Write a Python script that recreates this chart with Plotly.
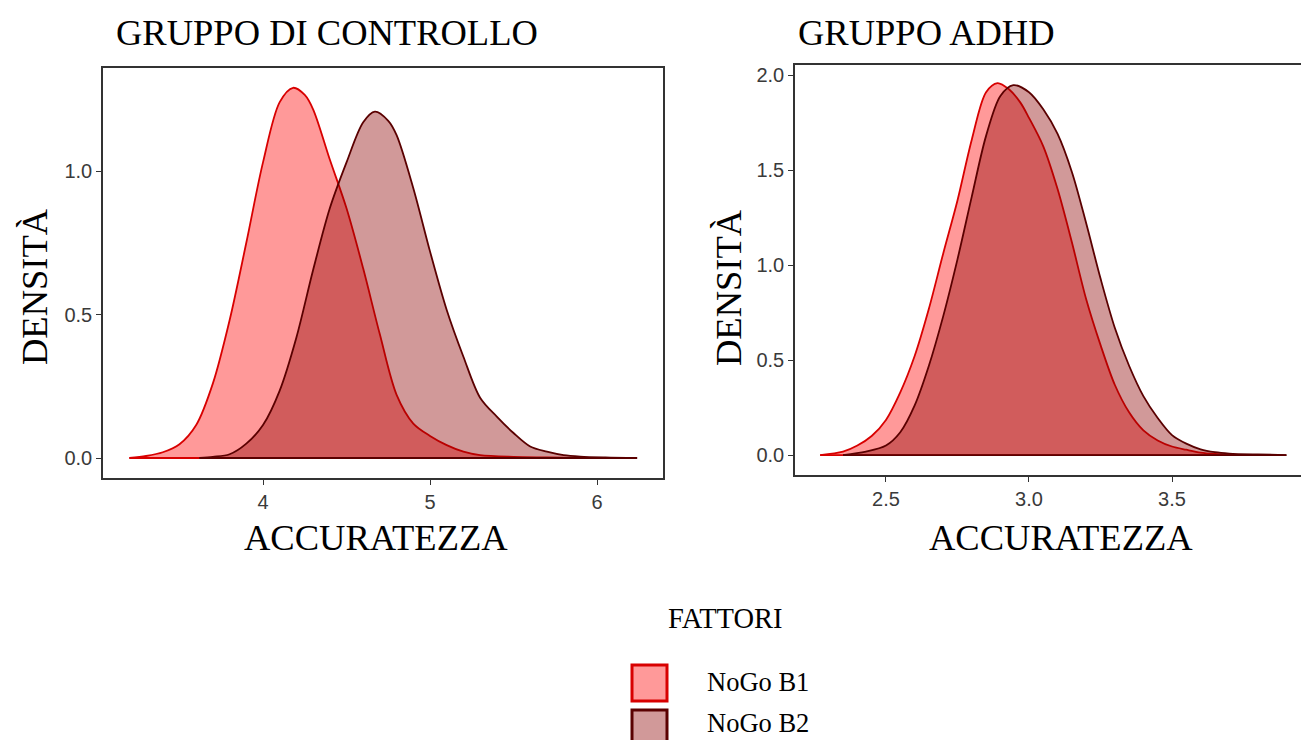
import plotly.graph_objects as go

# Density estimates of ACCURATEZZA, control group
ctrl_b1_x = [3.20, 3.30, 3.40, 3.50, 3.60, 3.70, 3.80, 3.90, 4.00, 4.10, 4.18, 4.25,
             4.30, 4.40, 4.50, 4.60, 4.70, 4.80, 4.90, 5.00, 5.10, 5.20, 5.30, 5.50,
             5.70, 5.90]
ctrl_b1_y = [0.0, 0.007, 0.02, 0.048, 0.115, 0.26, 0.48, 0.75, 1.03, 1.24, 1.29, 1.265,
             1.215, 1.04, 0.87, 0.66, 0.43, 0.22, 0.12, 0.077, 0.045, 0.022, 0.01, 0.004,
             0.002, 0.0]
ctrl_b2_x = [3.62, 3.70, 3.80, 3.90, 4.00, 4.10, 4.20, 4.30, 4.40, 4.50, 4.60, 4.67,
             4.75, 4.80, 4.90, 5.00, 5.10, 5.20, 5.30, 5.40, 5.50, 5.60, 5.70, 5.80,
             5.90, 6.05, 6.24]
ctrl_b2_y = [0.0, 0.004, 0.013, 0.05, 0.115, 0.235, 0.42, 0.655, 0.87, 1.03, 1.17, 1.207,
             1.175, 1.125, 0.94, 0.72, 0.516, 0.353, 0.21, 0.144, 0.087, 0.04, 0.022, 0.01,
             0.005, 0.002, 0.0]

# Density estimates of ACCURATEZZA, ADHD group
adhd_b1_x = [2.27, 2.35, 2.40, 2.45, 2.50, 2.55, 2.60, 2.65, 2.70, 2.75, 2.80, 2.85,
             2.89, 2.93, 2.97, 3.00, 3.05, 3.10, 3.15, 3.20, 3.25, 3.30, 3.35, 3.40,
             3.45, 3.50, 3.55, 3.60, 3.65, 3.74]
adhd_b1_y = [0.0, 0.018, 0.05, 0.10, 0.185, 0.33, 0.52, 0.77, 1.06, 1.34, 1.66, 1.91,
             1.958, 1.925, 1.855, 1.775, 1.625, 1.40, 1.12, 0.82, 0.58, 0.37, 0.225, 0.13,
             0.077, 0.045, 0.028, 0.013, 0.006, 0.0]
adhd_b2_x = [2.35, 2.43, 2.50, 2.55, 2.60, 2.65, 2.70, 2.75, 2.80, 2.85, 2.90, 2.945,
             3.00, 3.05, 3.10, 3.15, 3.20, 3.25, 3.30, 3.35, 3.40, 3.45, 3.50, 3.55,
             3.60, 3.65, 3.70, 3.80, 3.90]
adhd_b2_y = [0.0, 0.018, 0.05, 0.12, 0.26, 0.47, 0.73, 1.03, 1.36, 1.68, 1.89, 1.947,
             1.91, 1.82, 1.69, 1.49, 1.22, 0.93, 0.67, 0.47, 0.31, 0.195, 0.105, 0.06,
             0.03, 0.015, 0.008, 0.003, 0.0]

factors = ["NoGo B1", "NoGo B2"]
fill_colors = ["rgba(255,0,0,0.4)", "rgba(139,0,0,0.4)"]
line_colors = ["#D80000", "#5A0000"]

W, H = 1301, 740
SERIF = "Liberation Serif, Times New Roman, serif"
SANS = "Liberation Sans, Arial, sans-serif"


def px(x):
    return x / W


def py(y):
    return 1 - y / H


fig = go.Figure()

panels = [
    ("x", "y", [(ctrl_b1_x, ctrl_b1_y), (ctrl_b2_x, ctrl_b2_y)]),
    ("x2", "y2", [(adhd_b1_x, adhd_b1_y), (adhd_b2_x, adhd_b2_y)]),
]
for xa, ya, series in panels:
    for i, (xs, ys) in enumerate(series):
        fig.add_trace(go.Scatter(
            x=xs, y=ys, xaxis=xa, yaxis=ya, mode="lines",
            line=dict(color=line_colors[i], width=1.8, shape="spline", smoothing=0.9),
            fill="tozeroy", fillcolor=fill_colors[i],
            name=factors[i], showlegend=False, hoverinfo="x+y",
        ))
        # baseline of the density polygon
        fig.add_trace(go.Scatter(
            x=[xs[0], xs[-1]], y=[0, 0], xaxis=xa, yaxis=ya, mode="lines",
            line=dict(color=line_colors[i], width=1.8),
            showlegend=False, hoverinfo="skip",
        ))

axis_common = dict(
    showgrid=False, zeroline=False, showline=True, linecolor="#333333", linewidth=1.6,
    ticks="outside", ticklen=5, tickwidth=1.4, tickcolor="#333333",
    tickfont=dict(family=SANS, size=20, color="#3A3A3A"),
)

fig.update_layout(
    width=W, height=H,
    margin=dict(l=0, r=0, t=0, b=0),
    paper_bgcolor="white", plot_bgcolor="white",
    xaxis=dict(domain=[px(103), px(663)], range=[3.042, 6.395],
               tickvals=[4, 5, 6], ticktext=["4", "5", "6"], mirror=True, anchor="y",
               **axis_common),
    yaxis=dict(domain=[py(478), py(68)], range=[-0.0697, 1.359],
               tickvals=[0, 0.5, 1.0], ticktext=["0.0", "0.5", "1.0"], mirror=True,
               anchor="x", **axis_common),
    xaxis2=dict(domain=[px(795), 1.0], range=[2.182, 3.951],
                tickvals=[2.5, 3.0, 3.5], ticktext=["2.5", "3.0", "3.5"], mirror=True,
                anchor="y2", **axis_common),
    yaxis2=dict(domain=[py(475), py(65)], range=[-0.105, 2.053],
                tickvals=[0, 0.5, 1.0, 1.5, 2.0],
                ticktext=["0.0", "0.5", "1.0", "1.5", "2.0"], anchor="x2",
                **axis_common),
)

BIG = 36.5
annotations = [
    dict(text="GRUPPO DI CONTROLLO", x=px(114), y=py(33), xanchor="left", yanchor="middle",
         font=dict(family=SERIF, size=BIG, color="black")),
    dict(text="GRUPPO ADHD", x=px(796), y=py(33), xanchor="left", yanchor="middle",
         font=dict(family=SERIF, size=BIG, color="black")),
    dict(text="ACCURATEZZA", x=px(376), y=py(537), xanchor="center", yanchor="middle",
         font=dict(family=SERIF, size=BIG, color="black")),
    dict(text="ACCURATEZZA", x=px(1061), y=py(537), xanchor="center", yanchor="middle",
         font=dict(family=SERIF, size=BIG, color="black")),
    dict(text="DENSITÀ", x=px(35), y=py(287), xanchor="center", yanchor="middle",
         textangle=-90, font=dict(family=SERIF, size=BIG, color="black")),
    dict(text="DENSITÀ", x=px(729), y=py(287), xanchor="center", yanchor="middle",
         textangle=-90, font=dict(family=SERIF, size=BIG, color="black")),
    dict(text="FATTORI", x=px(725), y=py(618), xanchor="center", yanchor="middle",
         font=dict(family=SERIF, size=28.5, color="black")),
]

# legend keys
key_tops = [665, 710]
label_mid = [682, 723]
shapes = []
for i, name in enumerate(factors):
    top = key_tops[i]
    shapes.append(dict(type="rect", xref="paper", yref="paper",
                       x0=px(632), x1=px(667), y0=py(top + 36), y1=py(top),
                       fillcolor=fill_colors[i], line=dict(color=line_colors[i], width=3)))
    annotations.append(dict(text=name, x=px(705), y=py(label_mid[i]), xanchor="left",
                            yanchor="middle",
                            font=dict(family=SERIF, size=26.5, color="black")))

for a in annotations:
    a.update(xref="paper", yref="paper", showarrow=False)

fig.update_layout(annotations=annotations, shapes=shapes)

fig.write_html("out.html")
